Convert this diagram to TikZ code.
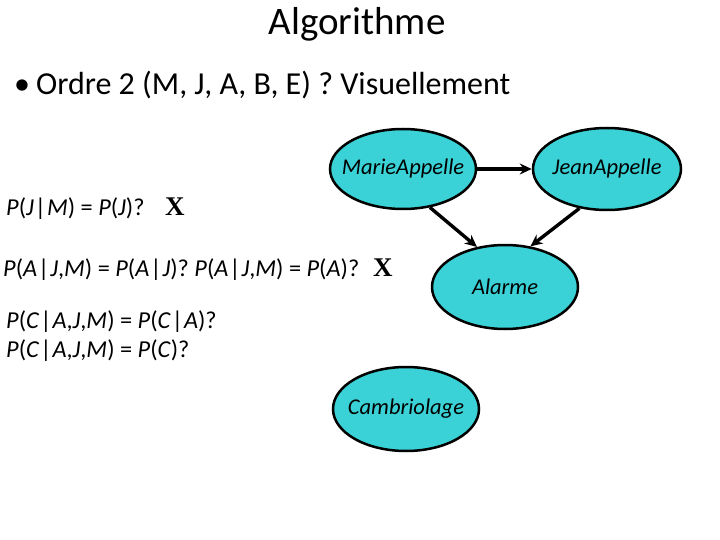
\documentclass[tikz,border=0pt]{standalone}
\usepackage{fontspec}
\setmainfont{Carlito}
\newfontfamily\xfont{Liberation Serif}
\usetikzlibrary{shapes.geometric,arrows.meta}
\definecolor{nodecyan}{RGB}{58,210,214}
\tikzset{
  bn/.style={ellipse,draw=black,line width=2.5pt,fill=nodecyan,inner xsep=-14pt,inner ysep=0pt,font=\fontsize{22.5}{26}\selectfont\itshape},
  edge/.style={line width=3.4pt,-{Stealth[length=12pt,width=11pt]}},
  txt/.style={anchor=base west,inner sep=0pt,font=\fontsize{24.3}{28}\selectfont},
  xmark/.style={anchor=base west,inner sep=0pt,font=\fontsize{27}{30}\selectfont\xfont\bfseries}
}
\newcommand{\vb}{\kern1pt|\kern1pt}
\begin{document}
\begin{tikzpicture}[x=1pt,y=-1pt]
\useasboundingbox (0,0) rectangle (720,540);
\node[anchor=base,inner sep=0pt,font=\fontsize{39}{44}\selectfont] (title) at (357,35) {Algorithme};
\node[anchor=base west,inner sep=0pt,font=\fontsize{32}{36}\selectfont] (bullet) at (14,95) {•\hspace{6pt}Ordre 2 (M, J, A, B, E) ? Visuellement};

\node[txt] (l1) at (6,215) {\textit{P}(\textit{J}\vb\textit{M}) = \textit{P}(\textit{J})?};
\node[xmark] (x1) at (165,215) {X};
\node[txt] (l2) at (3,276) {\textit{P}(\textit{A}\vb\textit{J},\textit{M}) = \textit{P}(\textit{A}\vb\textit{J})? \textit{P}(\textit{A}\vb\textit{J},\textit{M}) = \textit{P}(\textit{A})?};
\node[xmark] (x2) at (373,276) {X};
\node[txt] (l3) at (6,328) {\textit{P}(\textit{C}\vb\textit{A},\textit{J},\textit{M}) = \textit{P}(\textit{C}\vb\textit{A})?};
\node[txt] (l4) at (6,357) {\textit{P}(\textit{C}\vb\textit{A},\textit{J},\textit{M}) = \textit{P}(\textit{C})?};

\node[bn,minimum width=146pt,minimum height=80pt] (M) at (403,169) {MarieAppelle};
\node[bn,minimum width=148pt,minimum height=82pt] (J) at (607,169) {JeanAppelle};
\node[bn,minimum width=146pt,minimum height=84pt] (A) at (505,287) {Alarme};
\node[bn,minimum width=146pt,minimum height=84pt] (C) at (406,409) {Cambriolage};

\draw[edge,line width=4.5pt] (M) -- (J);
\draw[edge] (M.-55) -- (A.125);
\draw[edge] (J.-125) -- (A.58);
\end{tikzpicture}
\end{document}
